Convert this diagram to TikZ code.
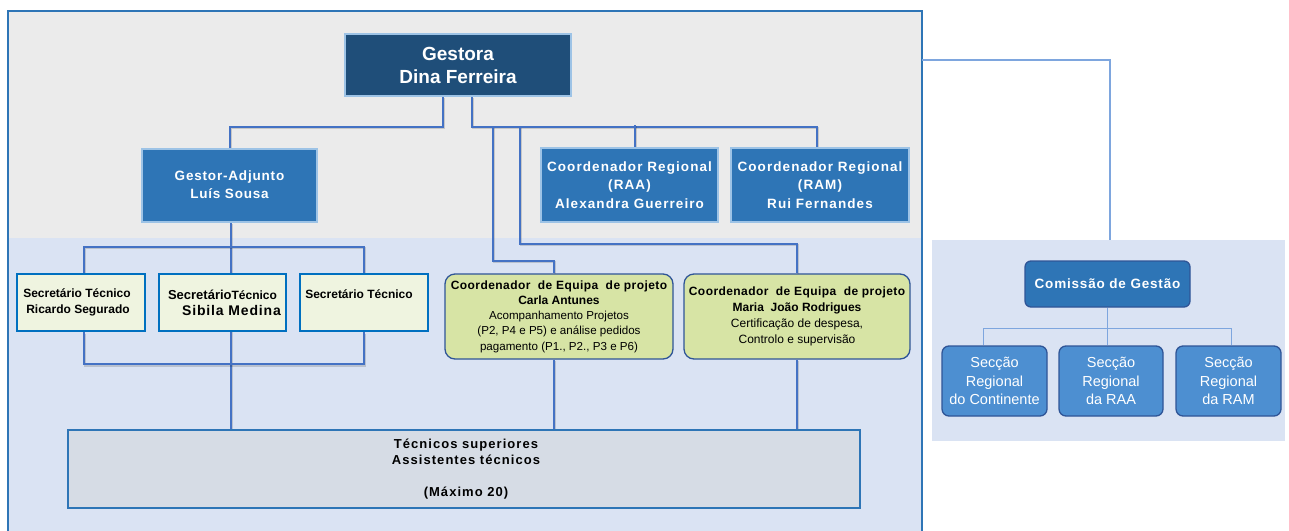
\documentclass[tikz,border=0pt]{standalone}
\usepackage{fontspec}
\setmainfont{Liberation Sans}
\newfontfamily\wA[LetterSpace=8]{Liberation Sans}
\newfontfamily\wB[LetterSpace=6]{Liberation Sans}
\newfontfamily\wC[LetterSpace=3.5]{Liberation Sans}
\definecolor{cgray}{HTML}{EBEBEB}
\definecolor{cpale}{HTML}{DAE3F3}
\definecolor{cframe}{HTML}{2E75B6}
\definecolor{cnavy}{HTML}{1F4E79}
\definecolor{cmid}{HTML}{2E75B6}
\definecolor{clight}{HTML}{9DC3E6}
\definecolor{ccream}{HTML}{EFF4E0}
\definecolor{csecb}{HTML}{0070C0}
\definecolor{cgreen}{HTML}{D7E4A5}
\definecolor{cdark}{HTML}{2F5597}
\definecolor{ctec}{HTML}{D6DCE5}
\definecolor{csec}{HTML}{4D8FD1}
\definecolor{cline}{HTML}{4472C4}
\definecolor{cthin}{HTML}{7EA6DE}
\pgfdeclarelayer{bg}
\pgfdeclarelayer{lines}
\pgfsetlayers{bg,lines,main}
\tikzset{
  base/.style={inner sep=0pt, align=center, text=white},
  gbox/.style={base, fill=cnavy, draw=clight, line width=2pt, font=\bfseries\fontsize{19}{23}\selectfont},
  mbox/.style={base, fill=cmid, draw=clight, line width=2pt, font=\wA\bfseries\fontsize{13.5}{18.5}\selectfont},
  secbox/.style={base, text=black, fill=ccream, draw=csecb, line width=2.6pt, font=\bfseries\fontsize{12}{16}\selectfont},
  coordbox/.style={base, text=black, fill=cgreen, draw=cdark, line width=1.3pt, rounded corners=10pt, font=\fontsize{11.6}{15.3}\selectfont},
  tecbox/.style={base, text=black, fill=ctec, draw=cframe, line width=1.3pt, font=\wA\bfseries\fontsize{13}{16}\selectfont},
  combox/.style={base, fill=cmid, draw=cdark, line width=1.3pt, rounded corners=6pt, font=\wB\bfseries\fontsize{13.5}{16}\selectfont},
  scbox/.style={base, fill=csec, draw=cdark, line width=1.3pt, rounded corners=7pt, font=\fontsize{14.5}{18.5}\selectfont},
  conn/.style={draw=cline, line width=2pt,
    preaction={draw=black, draw opacity=0.15, line width=2pt, transform canvas={shift={(1.3pt,-1.3pt)}}}},
  thin/.style={draw=cthin, line width=1.1pt},
}
\begin{document}
\begin{tikzpicture}[x=1pt,y=-1pt]
\useasboundingbox (0,0) rectangle (1289,530);
% panels
\begin{pgfonlayer}{bg}
  \fill[cgray] (8,11) rectangle (922,238);
  \fill[cpale] (8,238) rectangle (922,531);
  \draw[cframe, line width=1.5pt] (8,535) -- (8,11) -- (922,11) -- (922,535);
  \fill[cpale] (932,240) rectangle (1285,441);
\end{pgfonlayer}
\coordinate (fr) at (922,60);
\coordinate (pt) at (1110,240);

% nodes
\node[gbox, minimum width=226, minimum height=62] (g) at (458,65) {Gestora\\Dina Ferreira};
\node[mbox, minimum width=175, minimum height=73, font=\wB\bfseries\fontsize{13.5}{18}\selectfont] (ga) at (229.5,185) {Gestor-Adjunto\\Luís Sousa};
\node[mbox, minimum width=177, minimum height=74] (raa) at (629.5,185) {Coordenador Regional\\(RAA)\\Alexandra Guerreiro};
\node[mbox, minimum width=178, minimum height=74] (ram) at (820,185) {Coordenador Regional\\(RAM)\\Rui Fernandes};

\node[secbox, minimum width=128, minimum height=57] (s1) at (81,302.5) {Secretário Técnico\hspace*{8pt}\\Ricardo Segurado\hspace*{6pt}};
\node[secbox, minimum width=127, minimum height=57] (s2) at (222.5,302.5) {{\fontsize{13}{16}\selectfont Secretário}Técnico\\\hspace*{1.5em}{\wB\bfseries\fontsize{14}{16}\selectfont Sibila Medina}};
\node[secbox, minimum width=128, minimum height=57] (s3) at (364,302.5) {Secretário Técnico\hspace*{10pt}\\\mbox{}};

\node[coordbox, minimum width=228, minimum height=85] (carla) at (559,316.5) {{\wC\bfseries\fontsize{12}{15.5}\selectfont Coordenador\ \ de Equipa\ \ de projeto}\\{\bfseries\fontsize{12}{15.5}\selectfont Carla Antunes}\\Acompanhamento Projetos\\(P2, P4 e P5) e análise pedidos\\pagamento (P1., P2., P3 e P6)};
\node[coordbox, minimum width=226, minimum height=85, font=\fontsize{12}{16}\selectfont] (maria) at (797,316.5) {{\wC\bfseries Coordenador\ \ de Equipa\ \ de projeto}\\{\bfseries Maria\ \ João Rodrigues}\\Certificação de despesa,\\Controlo e supervisão};

\node[tecbox, minimum width=792, minimum height=78] (tec) at (464,469) {\hspace*{4pt}Técnicos superiores\\\hspace*{4pt}Assistentes técnicos\\\mbox{}\\\hspace*{4pt}(Máximo 20)};

\node[combox, minimum width=165, minimum height=46] (com) at (1107.5,284) {Comissão de Gestão};
\node[scbox, minimum width=105, minimum height=70] (c1) at (994.5,381) {Secção\\Regional\\do Continente};
\node[scbox, minimum width=104, minimum height=70] (c2) at (1111,381) {Secção\\Regional\\da RAA};
\node[scbox, minimum width=105, minimum height=70] (c3) at (1228.5,381) {Secção\\Regional\\da RAM};

% connectors
\begin{pgfonlayer}{lines}
  \draw[conn] ([xshift=-15pt]g.south) -- ++(0,30) -| (ga.north);
  \draw[conn] ([xshift=14pt]g.south) -- ++(0,30) -| ([xshift=-3pt]ram.north);
  \draw[conn] ([xshift=5pt]raa.north) -- ++(0,-22);
  \draw[conn] ([shift={(35,30)}]g.south) -- ++(0,134) -| ([xshift=-5pt]carla.north);
  \draw[conn] ([shift={(62,30)}]g.south) -- ++(0,117) -| (maria.north);
  \draw[conn] ([xshift=1.5pt]ga.south) -- ([xshift=1.5pt]ga.south |- tec.north);
  \draw[conn] ([xshift=3pt]s1.north) -- ++(0,-26) -| (s3.north);
  \draw[conn] ([xshift=3pt]s1.south) -- ++(0,32) -| (s3.south);
  \draw[conn] ([xshift=-5pt]carla.south) -- ([xshift=-5pt]carla.south |- tec.north);
  \draw[conn] (maria.south) -- (maria.south |- tec.north);
  \draw[thin] (fr) -| (pt);
  \draw[thin] (com.south) -- (com.south |- c2.north);
  \draw[thin] ([xshift=-11pt]c1.north) -- ++(0,-17) -| ([xshift=3pt]c3.north);
\end{pgfonlayer}
\end{tikzpicture}
\end{document}
